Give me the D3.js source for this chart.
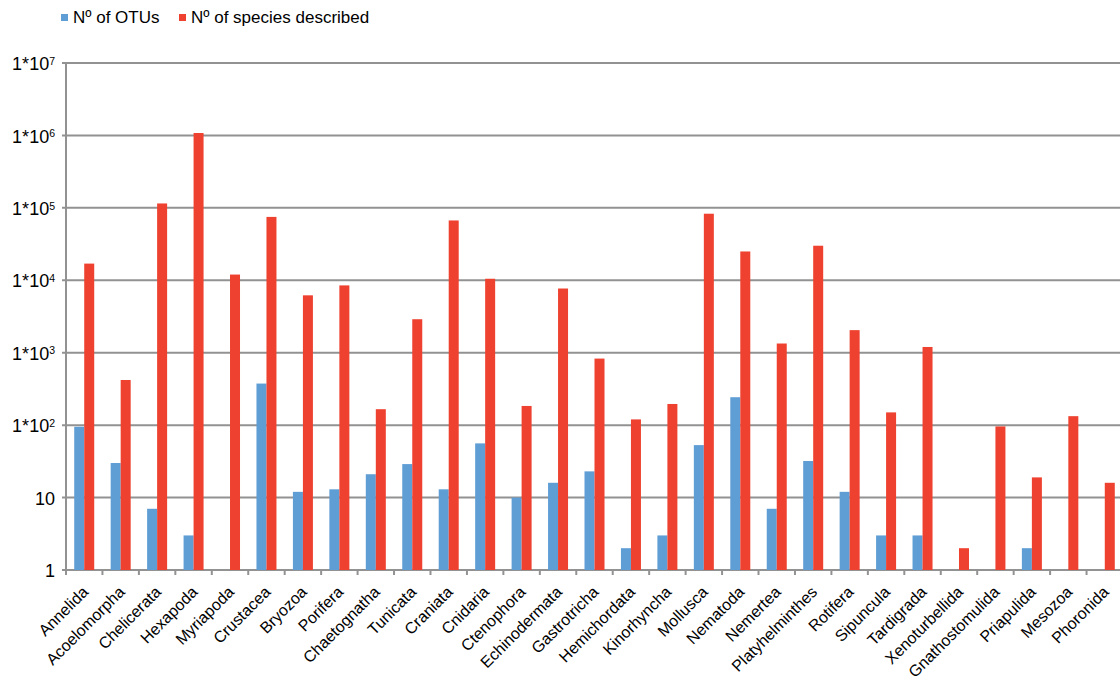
<!DOCTYPE html>
<html>
<head>
<meta charset="utf-8">
<script src="https://cdn.jsdelivr.net/npm/d3@7"></script>
<style>
  html, body { margin: 0; padding: 0; background: #fff; }
  svg { display: block; font-family: "Liberation Sans", Arial, sans-serif; }
</style>
</head>
<body>
<svg id="chart" width="1120" height="682"></svg>
<script>
// Phyla / groups along the x axis
const categories = [
  "Annelida", "Acoelomorpha", "Chelicerata", "Hexapoda", "Myriapoda",
  "Crustacea", "Bryozoa", "Porifera", "Chaetognatha", "Tunicata",
  "Craniata", "Cnidaria", "Ctenophora", "Echinodermata", "Gastrotricha",
  "Hemichordata", "Kinorhyncha", "Mollusca", "Nematoda", "Nemertea",
  "Platyhelminthes", "Rotifera", "Sipuncula", "Tardigrada", "Xenoturbellida",
  "Gnathostomulida", "Priapulida", "Mesozoa", "Phoronida"
];

// Number of OTUs per group (null = none recorded)
const otus = [
  95, 30, 7, 3, null,
  375, 12, 13, 21, 29,
  13, 56, 10, 16, 23,
  2, 3, 53, 243, 7,
  32, 12, 3, 3, null,
  null, 2, null, null
];

// Number of described species per group
const described = [
  17000, 420, 115000, 1080000, 12000,
  75000, 6200, 8500, 166, 2900,
  67000, 10500, 184, 7700, 830,
  120, 196, 83000, 25000, 1340,
  30000, 2050, 150, 1200, 2,
  96, 19, 133, 16
];

const seriesNames = ["N\u00ba of OTUs", "N\u00ba of species described"];
const seriesColors = ["#5f9dd5", "#ef412f"];

// Log axis ticks: base text and superscript exponent
const yTicks = [1, 10, 1e2, 1e3, 1e4, 1e5, 1e6, 1e7];
const yTickBase = ["1", "10", "1*10", "1*10", "1*10", "1*10", "1*10", "1*10"];
const yTickExp = ["", "", "2", "3", "4", "5", "6", "7"];

const svg = d3.select("#chart");
const plotLeft = 66, plotRight = 1123, plotTop = 63, plotBottom = 570;
const gridColor = "#929292";

const x = d3.scaleBand().domain(categories).range([plotLeft, plotRight]).padding(0);
const y = d3.scaleLog().domain([1, 1e7]).range([plotBottom, plotTop]);
const barW = 10;

// Horizontal gridlines
svg.append("g").selectAll("line")
  .data(yTicks)
  .join("line")
  .attr("x1", plotLeft - 4).attr("x2", plotRight)
  .attr("y1", d => y(d)).attr("y2", d => y(d))
  .attr("stroke", gridColor).attr("stroke-width", 2);

// Bars
const rows = categories.map((c, i) => ({ c, v: [otus[i], described[i]] }));
const groups = svg.append("g").selectAll("g")
  .data(rows)
  .join("g")
  .attr("transform", d => `translate(${x(d.c) + x.bandwidth() / 2},0)`);

groups.selectAll("rect")
  .data(d => d.v.map((v, k) => ({ v, k })).filter(e => e.v != null))
  .join("rect")
  .attr("x", e => e.k === 0 ? -barW : 0)
  .attr("width", barW)
  .attr("y", e => y(e.v))
  .attr("height", e => plotBottom - y(e.v))
  .attr("fill", e => seriesColors[e.k]);

// Y axis line
svg.append("line")
  .attr("x1", plotLeft).attr("x2", plotLeft)
  .attr("y1", plotTop).attr("y2", plotBottom + 1)
  .attr("stroke", gridColor).attr("stroke-width", 2);

// Y axis labels with superscript exponents
const yAxis = svg.append("g")
  .attr("transform", `translate(${plotLeft},0)`)
  .call(d3.axisLeft(y).tickValues(yTicks).tickSize(0).tickPadding(0).tickFormat(() => ""));
yAxis.select(".domain").remove();
yAxis.selectAll(".tick text").each(function (d) {
  const i = yTicks.indexOf(d);
  const t = d3.select(this)
    .attr("x", -11).attr("dy", "0.37em")
    .attr("text-anchor", "end")
    .attr("fill", "#000")
    .style("font-size", "18px")
    .style("font-family", "'Liberation Sans', Arial, sans-serif");
  t.append("tspan").text(yTickBase[i]);
  if (yTickExp[i]) {
    t.append("tspan").text(yTickExp[i])
      .attr("dy", -5.5).style("font-size", "10.5px");
  }
});

// X axis: tick marks at band edges and rotated labels
const edges = categories.map(c => x(c)).concat([plotRight]);
svg.append("g").selectAll("line")
  .data(edges)
  .join("line")
  .attr("x1", d => d).attr("x2", d => d)
  .attr("y1", plotBottom).attr("y2", plotBottom + 5)
  .attr("stroke", gridColor).attr("stroke-width", 2);

svg.append("g").selectAll("text")
  .data(categories)
  .join("text")
  .attr("transform", c => `translate(${x(c) + x.bandwidth() / 2 + 5},593) rotate(-45)`)
  .attr("text-anchor", "end")
  .style("font-size", "16px")
  .attr("fill", "#000")
  .text(c => c);

// Legend
const legend = svg.append("g").selectAll("g")
  .data(seriesNames)
  .join("g")
  .attr("transform", (d, i) => `translate(${i === 0 ? 61 : 179},14)`);
legend.append("rect")
  .attr("width", 7).attr("height", 7)
  .attr("fill", (d, i) => seriesColors[i]);
legend.append("text")
  .attr("x", 12).attr("y", 8.5)
  .style("font-size", "17px")
  .attr("fill", "#000")
  .text(d => d);
</script>
</body>
</html>
